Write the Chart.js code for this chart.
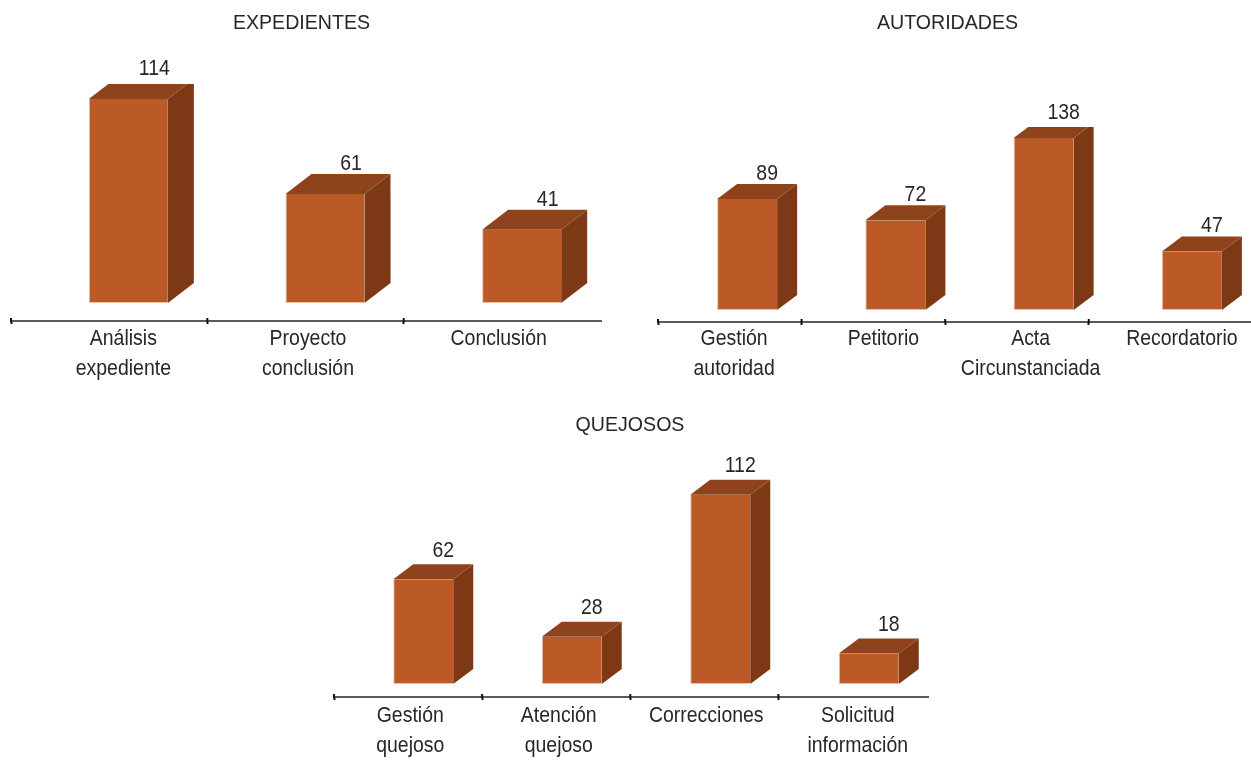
<!DOCTYPE html>
<html>
<head>
<meta charset="utf-8">
<script src="https://cdn.jsdelivr.net/npm/chart.js@4"></script>
<style>
    html, body { margin: 0; padding: 0; background: #fff; overflow: hidden; }
    canvas { position: absolute; }
</style>
</head>
<body>
<canvas id="expedientes" width="640" height="395" style="left:0;top:0"></canvas>
<canvas id="autoridades" width="611" height="395" style="left:640px;top:0"></canvas>
<canvas id="quejosos" width="640" height="361" style="left:320px;top:400px"></canvas>
<script>
const expedientesLabels = [['Análisis', 'expediente'], ['Proyecto', 'conclusión'], ['Conclusión']];
const expedientesValues = [114, 61, 41];

const autoridadesLabels = [['Gestión', 'autoridad'], ['Petitorio'], ['Acta', 'Circunstanciada'], ['Recordatorio']];
const autoridadesValues = [89, 72, 138, 47];

const quejososLabels = [['Gestión', 'quejoso'], ['Atención', 'quejoso'], ['Correcciones'], ['Solicitud', 'información']];
const quejososValues = [62, 28, 112, 18];

const FRONT = '#bc5a27';
const TOP = '#8f431c';
const SIDE = '#7d3915';
const TEXT = '#2a2627';
const FONT = '"Liberation Sans", Arial, sans-serif';

// text is a bit condensed in the original, so squeeze it horizontally
function drawText(ctx, text, x, y, size, squeeze) {
    ctx.save();
    ctx.font = size + 'px ' + FONT;
    ctx.fillStyle = TEXT;
    ctx.textAlign = 'center';
    ctx.textBaseline = 'middle';
    ctx.translate(x, y);
    ctx.scale(squeeze, 1);
    ctx.fillText(text, 0, 0);
    ctx.restore();
}

function polygon(ctx, pts, color) {
    ctx.fillStyle = color;
    ctx.beginPath();
    pts.forEach((p, i) => i ? ctx.lineTo(p[0], p[1]) : ctx.moveTo(p[0], p[1]));
    ctx.closePath();
    ctx.fill();
}

const boxPlugin = {
    id: 'box',
    beforeDatasetsDraw(chart, args, opts) {
        const ctx = chart.ctx;
        const area = chart.chartArea;
        ctx.save();
        ctx.beginPath();
        ctx.rect(area.left, area.top, area.width, area.height);
        ctx.clip();
        ctx.translate(opts.barShift, 0);
        chart.getDatasetMeta(0).data.forEach(bar => {
            const left = bar.x - bar.width / 2;
            const right = bar.x + bar.width / 2;
            const dx = opts.depthX, dy = opts.depthY;
            polygon(ctx, [[right, bar.y], [right + dx, bar.y - dy], [right + dx, bar.base - dy], [right, bar.base]], SIDE);
            polygon(ctx, [[left, bar.y], [left + dx, bar.y - dy], [right + dx, bar.y - dy], [right, bar.y]], TOP);
        });
    },
    afterDatasetsDraw(chart) {
        chart.ctx.restore();
    },
    afterDraw(chart, args, opts) {
        const ctx = chart.ctx;
        const area = chart.chartArea;
        const xScale = chart.scales.x;
        const tickScale = chart.scales.xTicks;

        // tick marks also poke above the axis line
        ctx.save();
        ctx.strokeStyle = '#111';
        ctx.lineWidth = 2;
        tickScale.ticks.forEach((t, i) => {
            const px = tickScale.getPixelForTick(i);
            ctx.beginPath();
            ctx.moveTo(px, area.bottom - 3);
            ctx.lineTo(px, area.bottom + 1);
            ctx.stroke();
        });
        ctx.restore();

        chart.data.labels.forEach((lines, i) => {
            const cx = xScale.getPixelForTick(i) + opts.labelShift[i];
            lines.forEach((line, j) => {
                drawText(ctx, line, cx, area.bottom + opts.labelGap + j * 29.5, 22, 0.885);
            });
        });

        chart.getDatasetMeta(0).data.forEach((bar, i) => {
            // value sits over the back face of the box
            const x = bar.x + opts.barShift + opts.depthX;
            const y = bar.y - opts.depthY - opts.valueGap;
            drawText(ctx, String(chart.data.datasets[0].data[i]), x, y, 22, 0.885);
        });

        drawText(ctx, opts.title, opts.titleX, opts.titleY, 19.6, 1);
    }
};

function makeChart(id, labels, values, opts) {
    const ctx = document.getElementById(id).getContext('2d');
    return new Chart(ctx, {
        type: 'bar',
        data: {
            labels: labels,
            datasets: [{
                data: values,
                backgroundColor: FRONT,
                borderColor: '#e6c3ae',
                borderWidth: { left: 1, bottom: 1, top: 0, right: 0 },
                borderSkipped: false,
                barPercentage: opts.barPercentage,
                categoryPercentage: 1
            }]
        },
        plugins: [boxPlugin],
        options: {
            responsive: false,
            animation: false,
            layout: { padding: opts.padding },
            plugins: {
                legend: { display: false },
                tooltip: { enabled: false },
                box: opts
            },
            scales: {
                x: { display: false },
                // separate axis, the tick spacing is not quite the bar spacing
                xTicks: {
                    type: 'linear',
                    position: 'bottom',
                    offset: false,
                    min: 0,
                    max: opts.tickMax,
                    ticks: { display: false, stepSize: 1 },
                    afterBuildTicks(scale) {
                        scale.ticks = scale.ticks.filter(t => Number.isInteger(t.value));
                    },
                    grid: { offset: false, drawOnChartArea: false, tickLength: 3, tickColor: '#111', tickWidth: 2 },
                    border: { color: '#5a5a5a', width: 2 }
                },
                y: { display: false, min: opts.yMin, max: opts.yMax }
            }
        }
    });
}

makeChart('expedientes', expedientesLabels, expedientesValues, {
    padding: { left: 11, right: 39, top: 84, bottom: 71 },
    barPercentage: 0.402,
    barShift: 19,
    depthX: 26,
    depthY: 20,
    valueGap: 10,
    labelGap: 18,
    labelShift: [14, 2, -4],
    tickMax: 3.005,
    yMin: -10,
    yMax: 122.4,
    title: 'EXPEDIENTES',
    titleX: 301.5,
    titleY: 23.5
});

makeChart('autoridades', autoridadesLabels, autoridadesValues, {
    padding: { left: 18, right: 0, top: 127, bottom: 70 },
    barPercentage: 0.405,
    barShift: 15,
    depthX: 20,
    depthY: 15,
    valueGap: 10,
    labelGap: 17,
    labelShift: [2, 3, 2, 5],
    tickMax: 4.13,
    yMin: -9.6,
    yMax: 146.8,
    title: 'AUTORIDADES',
    titleX: 307.5,
    titleY: 23.5
});

makeChart('quejosos', quejososLabels, quejososValues, {
    padding: { left: 14, right: 32, top: 70, bottom: 61 },
    barPercentage: 0.404,
    barShift: 15,
    depthX: 20,
    depthY: 15,
    valueGap: 13.5,
    labelGap: 19,
    labelShift: [2, 2, 1, 4],
    tickMax: 4.01,
    yMin: -7.7,
    yMax: 126.6,
    title: 'QUEJOSOS',
    titleX: 310,
    titleY: 25.5
});
</script>
</body>
</html>
